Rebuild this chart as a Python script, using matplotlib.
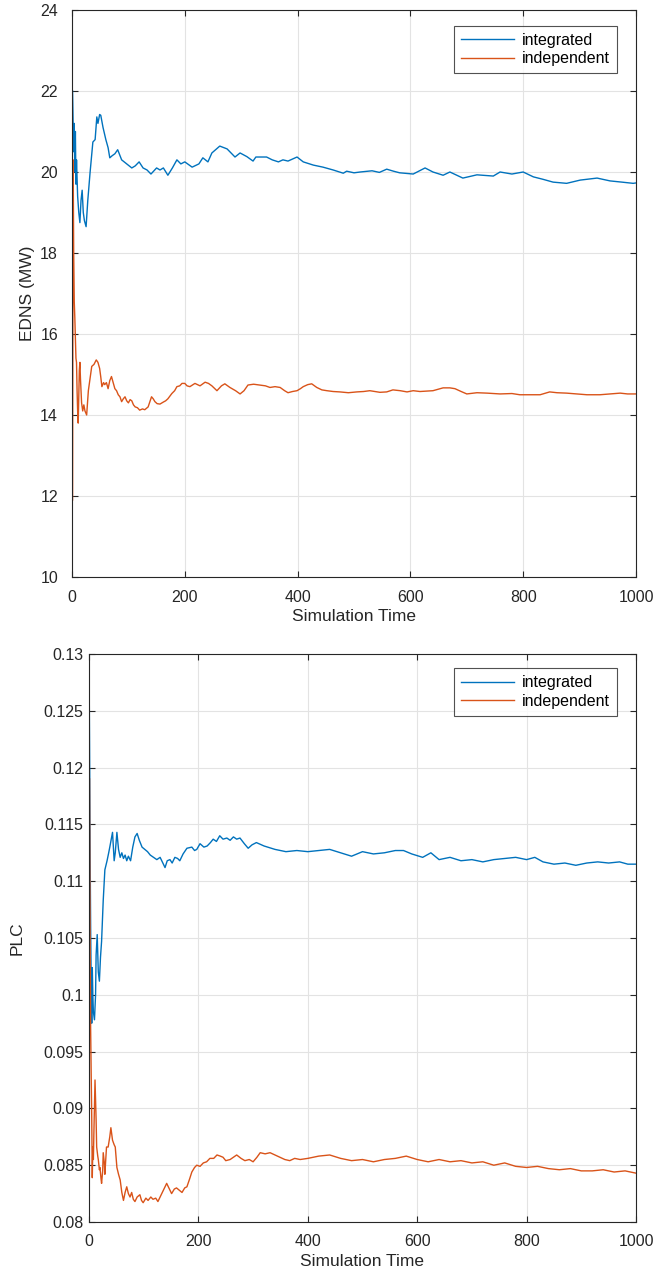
import matplotlib
matplotlib.use("Agg")
import matplotlib.pyplot as plt

plt.rcParams['font.family'] = ['Liberation Sans', 'DejaVu Sans']

# EDNS - integrated
edns_int_t = [1, 2, 3, 4, 5, 6, 7, 8, 10, 12, 14, 16, 18, 20, 22, 25, 28, 32, 37, 41, 44, 46, 49, 51,
              55, 60, 64, 67, 71, 76, 81, 88, 97, 106, 112, 119, 126, 133, 140, 150, 156, 162, 170,
              178, 186, 193, 200, 213, 225, 232, 241, 248, 262, 275, 289, 298, 310, 321, 326, 345,
              355, 366, 374, 383, 399, 410, 428, 445, 463, 481, 487, 500, 511, 532, 545, 558, 570,
              581, 605, 626, 640, 658, 670, 693, 718, 747, 759, 780, 800, 818, 835, 853, 877, 901,
              931, 954, 975, 995, 1000]
edns_int = [22.0, 21.2, 20.5, 21.2, 20.0, 21.0, 19.7, 20.3, 19.4, 19.0, 18.75, 19.3, 19.55, 19.0,
            18.8, 18.65, 19.3, 19.98, 20.74, 20.8, 21.36, 21.2, 21.42, 21.4, 21.1, 20.8, 20.6,
            20.35, 20.4, 20.45, 20.55, 20.3, 20.2, 20.1, 20.15, 20.25, 20.1, 20.05, 19.95, 20.1,
            20.05, 20.1, 19.92, 20.1, 20.3, 20.2, 20.25, 20.12, 20.2, 20.35, 20.25, 20.47, 20.64,
            20.57, 20.37, 20.47, 20.38, 20.27, 20.37, 20.37, 20.3, 20.25, 20.3, 20.27, 20.37, 20.25,
            20.17, 20.12, 20.05, 19.97, 20.02, 19.98, 20.0, 20.03, 19.99, 20.07, 20.02, 19.98,
            19.95, 20.1, 20.0, 19.92, 20.0, 19.85, 19.93, 19.9, 20.0, 19.95, 20.0, 19.88, 19.82,
            19.75, 19.72, 19.8, 19.85, 19.78, 19.75, 19.72, 19.73]

# EDNS - independent
edns_ind_t = [1, 2, 3, 4, 5, 6, 7, 8, 9, 10, 11, 12, 13, 14, 15, 17, 19, 21, 23, 26, 29, 32, 35, 39,
              43, 46, 49, 51, 53, 56, 58, 61, 64, 67, 70, 73, 76, 79, 82, 85, 88, 91, 94, 97, 100,
              103, 106, 109, 112, 116, 120, 125, 129, 135, 141, 144, 147, 151, 156, 162, 166, 170,
              177, 182, 186, 191, 195, 200, 204, 209, 218, 227, 236, 242, 248, 257, 265, 271, 280,
              290, 298, 305, 312, 322, 333, 343, 351, 360, 369, 377, 383, 391, 399, 405, 410, 418,
              425, 434, 443, 452, 463, 475, 490, 505, 517, 528, 546, 558, 569, 582, 594, 605, 617,
              640, 658, 670, 679, 690, 700, 718, 736, 759, 780, 794, 812, 830, 847, 860, 877, 895,
              913, 936, 955, 972, 985, 1000]
edns_ind = [11.9, 20.3, 18.0, 16.8, 16.4, 15.9, 15.4, 15.3, 14.6, 14.1, 13.8, 14.5, 15.1, 15.3,
            14.9, 14.3, 14.1, 14.25, 14.1, 14.0, 14.6, 14.9, 15.2, 15.25, 15.36, 15.3, 15.15, 14.94,
            14.7, 14.8, 14.75, 14.8, 14.65, 14.85, 14.95, 14.8, 14.65, 14.6, 14.5, 14.45, 14.33,
            14.4, 14.45, 14.35, 14.3, 14.38, 14.35, 14.25, 14.2, 14.18, 14.12, 14.15, 14.13, 14.2,
            14.45, 14.4, 14.33, 14.28, 14.27, 14.32, 14.35, 14.4, 14.53, 14.6, 14.7, 14.72, 14.78,
            14.78, 14.72, 14.7, 14.78, 14.72, 14.81, 14.78, 14.72, 14.6, 14.72, 14.77, 14.68, 14.6,
            14.52, 14.6, 14.74, 14.76, 14.74, 14.72, 14.68, 14.7, 14.68, 14.6, 14.55, 14.58, 14.6,
            14.65, 14.7, 14.75, 14.77, 14.68, 14.62, 14.6, 14.58, 14.57, 14.55, 14.57, 14.58, 14.6,
            14.56, 14.57, 14.62, 14.6, 14.57, 14.6, 14.58, 14.6, 14.67, 14.67, 14.65, 14.58, 14.52,
            14.55, 14.54, 14.52, 14.53, 14.5, 14.5, 14.5, 14.57, 14.55, 14.54, 14.52, 14.5, 14.5,
            14.52, 14.54, 14.52, 14.52]

# PLC - integrated
plc_int_t = [0, 1, 2, 3, 4, 5, 6, 7, 8, 10, 12, 13, 15, 17, 19, 21, 23, 26, 29, 33, 36, 38, 43, 46,
             48, 51, 54, 57, 60, 63, 66, 69, 72, 76, 80, 84, 88, 92, 97, 102, 107, 112, 118, 124,
             130, 135, 139, 143, 148, 152, 157, 162, 166, 172, 179, 188, 193, 197, 203, 210, 216,
             222, 227, 233, 239, 245, 252, 258, 264, 270, 276, 284, 291, 298, 306, 320, 340, 360,
             380, 400, 420, 440, 460, 480, 500, 520, 540, 560, 575, 590, 610, 625, 640, 660, 680,
             700, 720, 740, 760, 780, 800, 815, 830, 850, 870, 890, 910, 930, 950, 970, 985, 1000]
plc_int = [0.13, 0.122, 0.113, 0.106, 0.101, 0.0975, 0.1024, 0.1, 0.0985, 0.0978, 0.1, 0.1035,
           0.1053, 0.102, 0.1012, 0.1033, 0.1047, 0.1083, 0.111, 0.1118, 0.1125, 0.113, 0.1143,
           0.1118, 0.1125, 0.1143, 0.1128, 0.1121, 0.1125, 0.112, 0.1123, 0.1118, 0.1122, 0.1118,
           0.113, 0.1139, 0.1142, 0.1136, 0.113, 0.1128, 0.1126, 0.1123, 0.1121, 0.1119, 0.1121,
           0.1116, 0.1112, 0.1118, 0.1119, 0.1116, 0.1121, 0.112, 0.1118, 0.1124, 0.1129, 0.113,
           0.1127, 0.1128, 0.1133, 0.113, 0.1131, 0.1134, 0.1137, 0.1135, 0.114, 0.1137, 0.1138,
           0.1136, 0.1139, 0.1137, 0.1138, 0.1133, 0.1129, 0.1132, 0.1134, 0.1131, 0.1128, 0.1126,
           0.1127, 0.1126, 0.1127, 0.1128, 0.1125, 0.1122, 0.1126, 0.1124, 0.1125, 0.1127, 0.1127,
           0.1124, 0.1121, 0.1125, 0.1119, 0.1121, 0.1118, 0.1119, 0.1117, 0.1119, 0.112, 0.1121,
           0.1119, 0.1121, 0.1117, 0.1115, 0.1116, 0.1114, 0.1116, 0.1117, 0.1116, 0.1117, 0.1115,
           0.1115]

# PLC - independent
plc_ind_t = [1, 2, 3, 4, 5, 6, 7, 8, 9, 11, 13, 14, 16, 17, 19, 20, 22, 23, 25, 26, 28, 29, 31, 32,
             35, 38, 40, 43, 46, 48, 51, 54, 57, 60, 63, 66, 69, 72, 75, 78, 81, 84, 88, 93, 96, 99,
             104, 108, 113, 117, 122, 126, 130, 133, 138, 142, 147, 151, 156, 160, 165, 170, 175,
             179, 184, 188, 193, 197, 203, 209, 215, 221, 228, 234, 240, 245, 250, 258, 264, 270,
             278, 285, 293, 300, 307, 313, 322, 331, 340, 349, 358, 367, 376, 386, 400, 420, 440,
             460, 480, 500, 520, 540, 560, 580, 600, 620, 640, 660, 680, 700, 720, 740, 760, 780,
             800, 820, 840, 860, 880, 900, 920, 940, 960, 980, 1000]
plc_ind = [0.119, 0.105, 0.097, 0.093, 0.0892, 0.0839, 0.0866, 0.0855, 0.088, 0.0925, 0.089,
           0.0866, 0.0858, 0.0855, 0.0846, 0.0848, 0.0838, 0.0834, 0.0845, 0.0861, 0.0852, 0.0842,
           0.0858, 0.0866, 0.0866, 0.0875, 0.0883, 0.0872, 0.0868, 0.0866, 0.0848, 0.0842, 0.0837,
           0.0826, 0.0819, 0.0826, 0.0831, 0.0825, 0.0822, 0.0826, 0.082, 0.0818, 0.0822, 0.0824,
           0.0819, 0.0817, 0.0821, 0.0819, 0.0822, 0.082, 0.0821, 0.0818, 0.0822, 0.0825, 0.083,
           0.0834, 0.0829, 0.0825, 0.0829, 0.083, 0.0828, 0.0826, 0.083, 0.0831, 0.0838, 0.0844,
           0.0848, 0.085, 0.0849, 0.0852, 0.0853, 0.0856, 0.0856, 0.0859, 0.0858, 0.0857, 0.0854,
           0.0855, 0.0857, 0.0859, 0.0856, 0.0854, 0.0855, 0.0853, 0.0857, 0.0861, 0.086, 0.0861,
           0.0859, 0.0857, 0.0855, 0.0854, 0.0856, 0.0855, 0.0856, 0.0858, 0.0859, 0.0856, 0.0854,
           0.0855, 0.0853, 0.0855, 0.0856, 0.0858, 0.0855, 0.0853, 0.0855, 0.0853, 0.0854, 0.0852,
           0.0853, 0.085, 0.0852, 0.0849, 0.0848, 0.0849, 0.0847, 0.0846, 0.0847, 0.0845, 0.0845,
           0.0846, 0.0844, 0.0845, 0.0843]

x_ticks = [0, 200, 400, 600, 800, 1000]
edns_ticks = [10, 12, 14, 16, 18, 20, 22, 24]
plc_ticks = [0.08, 0.085, 0.09, 0.095, 0.1, 0.105, 0.11, 0.115, 0.12, 0.125, 0.13]
plc_labels = ["0.08", "0.085", "0.09", "0.095", "0.1", "0.105", "0.11", "0.115", "0.12", "0.125", "0.13"]

BLUE = "#0072BD"
ORANGE = "#D95319"
DARK = "#262626"


def style_axes(ax, ypad, ylab_x, leg_x, leg_y):
    ax.grid(True, color="#e3e3e3", linewidth=0.8)
    ax.set_axisbelow(True)
    ax.tick_params(direction="in", length=4, labelsize=11.5, colors=DARK,
                   top=True, right=True)
    ax.tick_params(axis="x", pad=9)
    ax.tick_params(axis="y", pad=ypad)
    for side in ax.spines.values():
        side.set_color(DARK)
        side.set_linewidth(0.8)
    ax.set_xlim(0, 1000)
    ax.set_xticks(x_ticks)
    ax.set_xlabel("Simulation Time", fontsize=12.5, color=DARK)
    ax.xaxis.set_label_coords(0.5, -0.057)
    ax.yaxis.set_label_coords(ylab_x, 0.5)
    leg = ax.legend(loc="upper right", fontsize=11.5, frameon=True, fancybox=False,
                    handlelength=3.3, borderaxespad=0, labelspacing=0.2,
                    borderpad=0.45, handletextpad=0.5, bbox_to_anchor=(leg_x, leg_y))
    leg.get_frame().set_edgecolor(DARK)
    leg.get_frame().set_linewidth(0.8)


fig = plt.figure(figsize=(6.7, 12.72), dpi=100)

ax1 = fig.add_axes([72 / 670, 1 - 577 / 1272, 564 / 670, 567 / 1272])
ax1.plot(edns_int_t, edns_int, color=BLUE, linewidth=1.0, label="integrated")
ax1.plot(edns_ind_t, edns_ind, color=ORANGE, linewidth=1.0, label="independent")
ax1.set_ylim(10, 24)
ax1.set_yticks(edns_ticks)
ax1.set_ylabel("EDNS (MW)", fontsize=12.5, color=DARK)
style_axes(ax1, 10, -0.066, 0.966, 0.972)

ax2 = fig.add_axes([89 / 670, 1 - 1222 / 1272, 547 / 670, 568 / 1272])
ax2.plot(plc_int_t, plc_int, color=BLUE, linewidth=1.0, label="integrated")
ax2.plot(plc_ind_t, plc_ind, color=ORANGE, linewidth=1.0, label="independent")
ax2.set_ylim(0.08, 0.13)
ax2.set_yticks(plc_ticks)
ax2.set_yticklabels(plc_labels)
ax2.set_ylabel("PLC", fontsize=12.5, color=DARK)
style_axes(ax2, 4, -0.118, 0.965, 0.975)

fig.savefig("out.png", dpi=100)
